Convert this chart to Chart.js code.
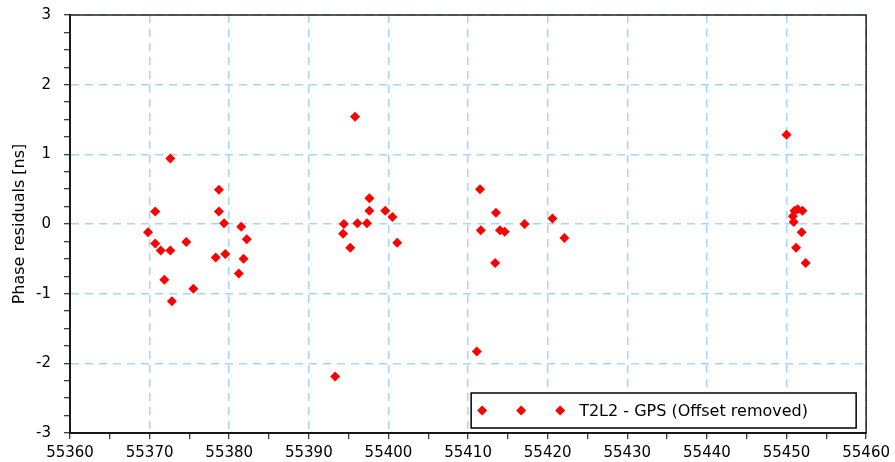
<!DOCTYPE html>
<html>
<head>
<meta charset="utf-8">
<script src="https://cdn.jsdelivr.net/npm/chart.js@4/dist/chart.umd.min.js"></script>
<style>
  html, body { margin: 0; padding: 0; background: #fff; }
  #wrap { width: 895px; height: 462px; }
</style>
</head>
<body>
<div id="wrap"><canvas id="grafica" width="895" height="462"></canvas></div>
<script>
// MJD de cada medida
const mjd = [
  55369.8, 55370.7, 55370.7, 55371.4, 55371.85, 55372.6, 55372.6, 55372.8, 55374.6, 55375.5,
  55378.3, 55378.7, 55378.7, 55379.35, 55379.5, 55381.2, 55381.5, 55381.8, 55382.2,
  55393.3, 55394.3, 55394.4, 55395.2, 55395.8, 55396.1, 55397.3, 55397.6, 55397.6, 55399.6, 55400.5, 55401.1,
  55411.1, 55411.5, 55411.6, 55413.4, 55413.5, 55414.0, 55414.6, 55417.1, 55420.6, 55422.1,
  55450.0, 55450.8, 55450.9, 55451.0, 55451.4, 55452.0, 55451.9, 55451.2, 55452.4
];
// residuos de fase [ns]
const residuals = [
  -0.12, 0.18, -0.28, -0.38, -0.80, 0.94, -0.38, -1.11, -0.26, -0.93,
  -0.48, 0.49, 0.18, 0.01, -0.43, -0.71, -0.04, -0.50, -0.22,
  -2.19, -0.14, 0.00, -0.34, 1.54, 0.01, 0.01, 0.37, 0.19, 0.19, 0.10, -0.27,
  -1.83, 0.50, -0.09, -0.56, 0.16, -0.09, -0.11, 0.00, 0.08, -0.20,
  1.28, 0.11, 0.03, 0.19, 0.21, 0.19, -0.12, -0.34, -0.56
];
const seriesLabel = "T2L2 - GPS (Offset removed)";
const xTicks = [55360, 55370, 55380, 55390, 55400, 55410, 55420, 55430, 55440, 55450, 55460];
const yTicks = [-3, -2, -1, 0, 1, 2, 3];

const FONT = "DejaVu Sans";
const GRID = "#a6d6ff";

const puntos = mjd.map((x, i) => ({ x: x, y: residuals[i] }));

// marco y leyenda dentro del area
const marco = {
  id: "marco",
  afterDraw(chart) {
    const { ctx, chartArea: a } = chart;
    ctx.save();
    ctx.strokeStyle = "#222";
    ctx.lineWidth = 1.5;
    ctx.strokeRect(a.left, a.top, a.right - a.left, a.bottom - a.top);

    // leyenda
    const w = 385, h = 35;
    const lx = a.right - 10 - w, ly = a.bottom - 5 - h;
    ctx.fillStyle = "#fff";
    ctx.fillRect(lx, ly, w, h);
    ctx.strokeStyle = "#000";
    ctx.lineWidth = 1.5;
    ctx.strokeRect(lx, ly, w, h);
    const cy = ly + h / 2;
    ctx.fillStyle = "red";
    [11, 50, 89].forEach(dx => {
      const cx = lx + dx, r = 5;
      ctx.beginPath();
      ctx.moveTo(cx, cy - r);
      ctx.lineTo(cx + r, cy);
      ctx.lineTo(cx, cy + r);
      ctx.lineTo(cx - r, cy);
      ctx.closePath();
      ctx.fill();
    });
    ctx.fillStyle = "#000";
    ctx.font = "16px '" + FONT + "'";
    ctx.textBaseline = "middle";
    ctx.fillText(seriesLabel, lx + 108, cy + 1);
    ctx.restore();
  }
};

new Chart(document.getElementById("grafica").getContext("2d"), {
  type: "scatter",
  data: {
    datasets: [{
      label: seriesLabel,
      data: puntos,
      pointStyle: "rectRot",
      pointRadius: 5,
      pointHoverRadius: 5,
      borderWidth: 0,
      backgroundColor: "red",
      borderColor: "red"
    }]
  },
  options: {
    responsive: false,
    animation: false,
    layout: { padding: { left: 0, right: 28, top: 15, bottom: 0 } },
    plugins: { legend: { display: false }, tooltip: { enabled: false } },
    scales: {
      x: {
        type: "linear",
        min: xTicks[0],
        max: xTicks[xTicks.length - 1],
        afterFit(s) { s.height = 29; },
        ticks: {
          stepSize: 5,
          autoSkip: false,
          maxRotation: 0,
          padding: 5,
          color: "#000",
          font: { family: FONT, size: 15 },
          callback: v => xTicks.includes(v) ? String(v) : ""
        },
        grid: {
          color: c => (c.tick && xTicks.includes(c.tick.value)) ? GRID : "rgba(0,0,0,0)",
          tickColor: "#000",
          tickLength: 6,
          lineWidth: 1.5,
          tickWidth: 1
        },
        border: { display: true, color: "#000", width: 2, dash: [8, 6] }
      },
      y: {
        min: yTicks[0],
        max: yTicks[yTicks.length - 1],
        afterFit(s) { s.width = 70; s.paddingTop = 0; s.paddingBottom = 0; },
        ticks: {
          stepSize: 0.25,
          autoSkip: false,
          padding: 13,
          color: "#000",
          font: { family: FONT, size: 15 },
          callback: v => yTicks.includes(v) ? String(v) : ""
        },
        grid: {
          color: c => (c.tick && yTicks.includes(c.tick.value)) ? GRID : "rgba(0,0,0,0)",
          tickColor: "#000",
          tickLength: 6,
          lineWidth: 1.5,
          tickWidth: 1
        },
        border: { display: true, color: "#000", width: 2, dash: [8, 6] },
        title: {
          display: true,
          text: "Phase residuals [ns]",
          color: "#000",
          font: { family: FONT, size: 16 },
          padding: { top: 10, bottom: 0 }
        }
      }
    }
  },
  plugins: [marco]
});
</script>
</body>
</html>
